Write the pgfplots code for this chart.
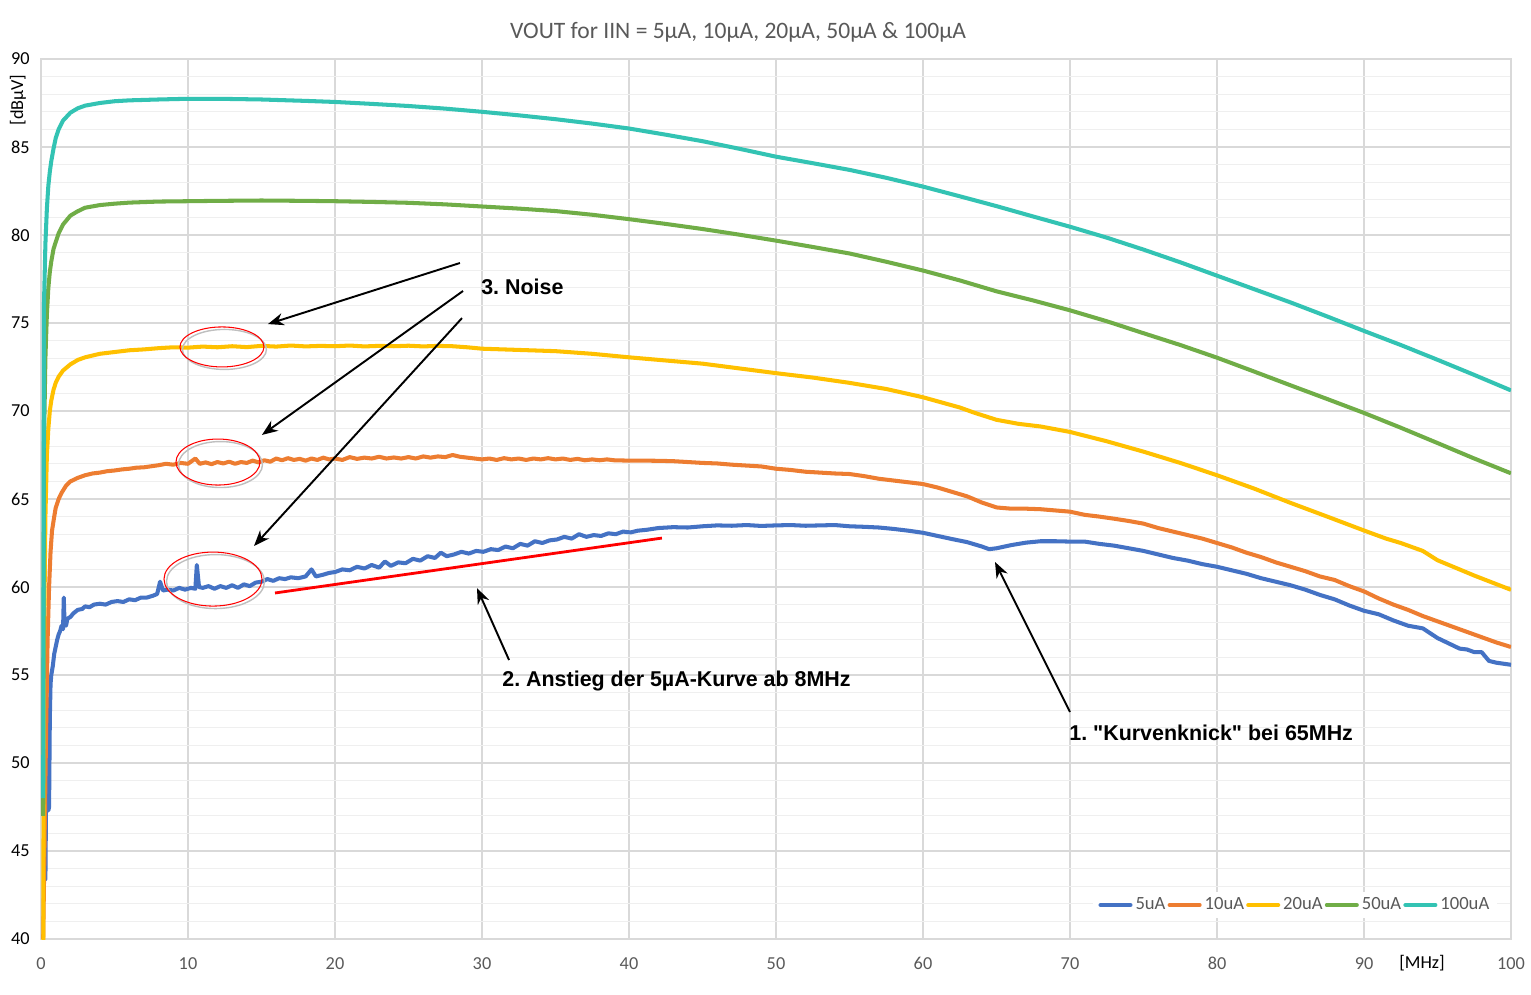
\documentclass[border=0pt]{standalone}
\usepackage{fontspec}
\setmainfont{Carlito}
\newfontfamily\annfont{Liberation Sans}
\usepackage{pgfplots}
\pgfplotsset{compat=1.18}
\usetikzlibrary{arrows.meta}
\definecolor{cBlue}{HTML}{4472C4}
\definecolor{cOrange}{HTML}{ED7D31}
\definecolor{cYellow}{HTML}{FFC000}
\definecolor{cGreen}{HTML}{70AD47}
\definecolor{cTeal}{HTML}{33C3B3}
\definecolor{txtgray}{HTML}{595959}
\definecolor{gridmaj}{HTML}{D9D9D9}
\definecolor{gridmin}{HTML}{EFEFEF}
\frenchspacing
\begin{document}
\begin{tikzpicture}
\begin{axis}[
  at={(0,0)}, anchor=south west,
  scale only axis, width=29.4cm, height=17.6cm,
  xmin=0, xmax=100, ymin=40, ymax=90,
  xtick={0,10,...,100}, ytick={40,45,...,90},
  minor y tick num=4,
  major tick length=0pt, minor tick length=0pt,
  xmajorgrids, ymajorgrids, yminorgrids,
  major grid style={draw=gridmaj, line width=0.7pt},
  minor grid style={draw=gridmin, line width=0.5pt},
  axis line style={draw=gridmaj, line width=0.6pt},
  /pgf/number format/assume math mode=true,
  tick label style={font=\fontsize{10.4}{12}\selectfont},
  xticklabel style={text=txtgray, inner sep=0pt, yshift=-0.36cm},
  yticklabel style={text=black, inner sep=0pt, xshift=-0.22cm},
  legend columns=5,
  legend style={at={(0.9905,0.0386)}, anchor=east, draw=none, fill=white,
    font=\fontsize{10.6}{12}\selectfont, text=txtgray,
    inner xsep=3pt, inner ysep=2pt,
    nodes={inner sep=1.2pt},
    /tikz/every odd column/.append style={column sep=0.5pt}},
  legend image code/.code={\draw[#1, line width=2.3pt, line cap=round] (0cm,0cm) -- (0.6cm,0cm);},
  every axis plot/.append style={line width=2.3pt, line join=round},
]
\addplot[cBlue] coordinates {
(0.2,51) (0.3,43.4) (0.4,53.5) (0.5,47.3) (0.55,47.5) (0.6,52.5) (0.65,54.5) (0.7,55.0) (0.8,55.5) (0.9,56.2) (1.0,56.6) (1.1,57.0) (1.2,57.3) (1.3,57.5) (1.4,57.8) (1.5,57.6) (1.55,59.4) (1.6,58.0) (1.7,57.8) (1.8,58.2) (2.0,58.3) (2.2,58.5) (2.5,58.7) (2.8,58.75) (3.0,58.9) (3.3,58.85) (3.6,59.0) (4.0,59.05) (4.4,59.0) (4.8,59.15) (5.2,59.2) (5.6,59.15) (6.0,59.3) (6.4,59.25) (6.8,59.4) (7.2,59.4) (7.6,59.5) (7.9,59.6) (8.1,60.3) (8.3,59.8) (8.6,59.85) (9.0,59.8) (9.4,59.95) (9.8,59.85) (10.2,59.95) (10.5,59.9) (10.6,61.25) (10.75,60.0) (11.0,59.95) (11.4,60.05) (11.8,59.9) (12.2,60.05) (12.6,59.95) (13.0,60.1) (13.4,59.95) (13.8,60.15) (14.2,60.05) (14.6,60.25) (15.0,60.3) (15.4,60.45) (15.8,60.35) (16.2,60.5) (16.6,60.45) (17.0,60.55) (17.5,60.5) (18.0,60.6) (18.4,61.0) (18.7,60.6) (19.2,60.7) (19.6,60.8) (20,60.85) (20.5,61.0) (21,60.95) (21.5,61.15) (22,61.05) (22.5,61.25) (23,61.1) (23.4,61.45) (23.8,61.2) (24.3,61.4) (24.8,61.35) (25.3,61.6) (25.8,61.5) (26.3,61.75) (26.8,61.65) (27.2,61.95) (27.6,61.75) (28.1,61.85) (28.6,62.0) (29.1,61.9) (29.6,62.05) (30.1,62.0) (30.6,62.15) (31.1,62.1) (31.6,62.3) (32.1,62.2) (32.6,62.45) (33.1,62.35) (33.6,62.6) (34.1,62.5) (34.6,62.65) (35.1,62.7) (35.6,62.85) (36.1,62.75) (36.6,63.0) (37.1,62.85) (37.6,62.95) (38.1,62.9) (38.6,63.05) (39.1,63.0) (39.6,63.15) (40.1,63.1) (40.6,63.2) (41.2,63.25) (42,63.35) (43,63.4) (44,63.38) (45,63.45) (46,63.5) (47,63.48) (48,63.52) (49,63.47) (50,63.5) (51,63.52) (52,63.48) (53,63.5) (54,63.52) (55,63.45) (56,63.42) (57,63.38) (58,63.3) (59,63.2) (60,63.08) (61,62.9) (62,62.72) (63,62.55) (64,62.3) (64.5,62.15) (65,62.2) (66,62.38) (67,62.52) (68,62.6) (69,62.6) (70,62.58) (71,62.58) (72,62.45) (73,62.35) (74,62.2) (75,62.05) (76,61.85) (77,61.65) (78,61.5) (79,61.3) (80,61.15) (81,60.95) (82,60.75) (83,60.5) (84,60.3) (85,60.1) (86,59.85) (87,59.55) (88,59.3) (89,58.95) (90,58.65) (91,58.45) (92,58.1) (93,57.8) (94,57.65) (95,57.1) (96,56.7) (96.5,56.5) (97,56.45) (97.5,56.3) (98,56.3) (98.5,55.8) (99,55.7) (100,55.58)
};
\addlegendentry{5uA}
\addplot[cOrange] coordinates {
(0.15,40) (0.25,46) (0.35,52) (0.45,57) (0.55,60) (0.65,62) (0.75,63.2) (0.9,64.0) (1.0,64.5) (1.2,65.0) (1.4,65.35) (1.7,65.75) (2,66.0) (2.5,66.2) (3,66.35) (3.5,66.45) (4,66.5) (4.5,66.58) (5,66.62) (5.5,66.68) (6,66.72) (6.5,66.78) (7,66.8) (7.5,66.86) (8,66.92) (8.5,67.0) (9,66.95) (9.5,67.05) (10,67.0) (10.5,67.3) (10.8,67.0) (11.2,67.08) (11.6,66.98) (12,67.1) (12.4,67.02) (12.8,67.12) (13.2,67.0) (13.6,67.1) (14,67.05) (14.4,67.18) (14.8,67.08) (15.2,67.2) (15.6,67.12) (16,67.3) (16.4,67.2) (16.8,67.32) (17.2,67.22) (17.6,67.28) (18,67.18) (18.4,67.3) (18.8,67.22) (19.2,67.35) (19.6,67.25) (20,67.3) (20.5,67.22) (21,67.38) (21.5,67.28) (22,67.35) (22.5,67.3) (23,67.4) (23.5,67.3) (24,67.36) (24.5,67.3) (25,67.38) (25.5,67.3) (26,67.42) (26.5,67.35) (27,67.42) (27.5,67.38) (28,67.5) (28.5,67.4) (29,67.35) (29.5,67.3) (30,67.25) (30.5,67.3) (31,67.22) (31.5,67.32) (32,67.25) (32.5,67.3) (33,67.22) (33.5,67.3) (34,67.25) (34.5,67.32) (35,67.25) (35.5,67.3) (36,67.22) (36.5,67.28) (37,67.2) (37.5,67.25) (38,67.2) (38.5,67.25) (39,67.2) (40,67.18) (41,67.18) (42,67.17) (43,67.15) (44,67.1) (45,67.05) (46,67.02) (47,66.95) (48,66.9) (49,66.85) (50,66.72) (51,66.65) (52,66.55) (53,66.5) (54,66.45) (55,66.42) (56,66.3) (57,66.15) (58,66.05) (59,65.95) (60,65.85) (61,65.65) (62,65.4) (63,65.15) (64,64.8) (65,64.52) (66,64.45) (67,64.45) (68,64.42) (69,64.35) (70,64.28) (71,64.1) (72,64.0) (73,63.88) (74,63.75) (75,63.6) (76,63.35) (77,63.15) (78,62.95) (79,62.75) (80,62.5) (81,62.25) (82,61.95) (83,61.7) (84,61.4) (85,61.15) (86,60.9) (87,60.6) (88,60.4) (89,60.05) (90,59.75) (91,59.35) (92,59.0) (93,58.7) (94,58.35) (95,58.05) (96,57.75) (97,57.45) (98,57.15) (99,56.85) (100,56.59)
};
\addlegendentry{10uA}
\addplot[cYellow] coordinates {
(0.15,38) (0.2,56) (0.3,64) (0.4,67.5) (0.5,69.0) (0.6,70.0) (0.7,70.6) (0.85,71.2) (1.0,71.6) (1.2,71.95) (1.5,72.3) (2,72.65) (2.5,72.9) (3,73.05) (4,73.25) (5,73.35) (6,73.45) (7,73.5) (8,73.57) (9,73.62) (10,73.6) (11,73.66) (12,73.62) (13,73.68) (14,73.63) (15,73.7) (16,73.66) (17,73.72) (18,73.67) (19,73.7) (20,73.68) (21,73.72) (22,73.67) (23,73.7) (24,73.68) (25,73.71) (26,73.67) (27,73.7) (28,73.68) (29,73.62) (30,73.54) (32.5,73.47) (35,73.4) (37.5,73.25) (40,73.05) (42.5,72.87) (45,72.69) (47.5,72.42) (50,72.15) (52.5,71.9) (55,71.6) (57.5,71.25) (60,70.78) (62.5,70.2) (63.5,69.9) (65,69.5) (66.5,69.27) (68,69.12) (70,68.81) (72.5,68.28) (75,67.69) (77.5,67.05) (80,66.35) (82.5,65.6) (85,64.78) (87.5,64.0) (90,63.21) (91.5,62.75) (92.5,62.5) (94,62.05) (95,61.52) (97.5,60.65) (100,59.84)
};
\addlegendentry{20uA}
\addplot[cGreen] coordinates {
(0.15,47) (0.2,68) (0.3,73) (0.4,75.5) (0.5,77.0) (0.6,77.9) (0.7,78.5) (0.85,79.2) (1.0,79.6) (1.2,80.1) (1.5,80.6) (2,81.1) (2.5,81.35) (3,81.55) (4,81.7) (5,81.78) (6,81.84) (8,81.9) (10,81.92) (12,81.94) (15,81.96) (18,81.94) (20,81.92) (22.5,81.88) (25,81.83) (27.5,81.74) (30,81.62) (32.5,81.5) (35,81.36) (37.5,81.15) (40,80.9) (42.5,80.63) (45,80.34) (47.5,80.02) (50,79.68) (52.5,79.32) (55,78.95) (57.5,78.48) (60,77.98) (62.5,77.42) (65,76.8) (67.5,76.28) (70,75.72) (72.5,75.1) (75,74.42) (77.5,73.75) (80,73.03) (82.5,72.25) (85,71.46) (87.5,70.68) (90,69.89) (92.5,69.05) (95,68.18) (97.5,67.3) (100,66.46)
};
\addlegendentry{50uA}
\addplot[cTeal] coordinates {
(0.15,48) (0.2,76) (0.3,79.5) (0.4,81.5) (0.5,82.8) (0.6,83.6) (0.7,84.2) (0.85,84.9) (1.0,85.5) (1.2,86.0) (1.5,86.5) (2,86.95) (2.5,87.2) (3,87.35) (4,87.5) (5,87.6) (6,87.65) (8,87.7) (10,87.74) (12,87.74) (15,87.7) (18,87.62) (20,87.56) (22.5,87.45) (25,87.33) (27.5,87.18) (30,87.0) (32.5,86.8) (35,86.58) (37.5,86.33) (40,86.05) (42.5,85.7) (45,85.33) (47.5,84.9) (50,84.45) (52.5,84.08) (55,83.7) (57.5,83.25) (60,82.75) (62.5,82.2) (65,81.64) (67.5,81.05) (70,80.47) (72.5,79.85) (75,79.17) (77.5,78.45) (80,77.69) (82.5,76.93) (85,76.17) (87.5,75.37) (90,74.55) (92.5,73.75) (95,72.91) (97.5,72.05) (100,71.17)
};
\addlegendentry{100uA}
% annotations
\draw[black!25, line width=0.8pt, shift={(0.05cm,-0.05cm)}] (axis cs:12.31,73.64) ellipse [x radius=0.84cm, y radius=0.4cm];
\draw[black!25, line width=0.8pt, shift={(0.05cm,-0.05cm)}] (axis cs:12.04,67.10) ellipse [x radius=0.84cm, y radius=0.46cm];
\draw[black!25, line width=0.8pt, shift={(0.05cm,-0.05cm)}] (axis cs:11.70,60.45) ellipse [x radius=0.98cm, y radius=0.54cm];
\draw[red, line width=0.6pt] (axis cs:12.31,73.64) ellipse [x radius=0.84cm, y radius=0.4cm];
\draw[red, line width=0.6pt] (axis cs:12.04,67.10) ellipse [x radius=0.84cm, y radius=0.46cm];
\draw[red, line width=0.6pt] (axis cs:11.70,60.45) ellipse [x radius=0.98cm, y radius=0.54cm];
\draw[red, line width=1.6pt] (axis cs:15.92,59.66) -- (axis cs:42.24,62.78);
\draw[black, line width=1.1pt, -{Stealth[length=9pt, width=7pt]}] (axis cs:28.5,78.41) -- (axis cs:15.44,74.94);
\draw[black, line width=1.1pt, -{Stealth[length=9pt, width=7pt]}] (axis cs:28.71,76.82) -- (axis cs:15.03,68.64);
\draw[black, line width=1.1pt, -{Stealth[length=9pt, width=7pt]}] (axis cs:28.64,75.28) -- (axis cs:14.49,62.33);
\draw[black, line width=1.1pt, -{Stealth[length=9pt, width=7pt]}] (axis cs:31.84,55.85) -- (axis cs:29.66,59.94);
\draw[black, line width=1.1pt, -{Stealth[length=9pt, width=7pt]}] (axis cs:70.0,52.9) -- (axis cs:64.9,61.42);
\node[anchor=west, inner sep=0pt, font=\annfont\bfseries\fontsize{12.2}{14}\selectfont] at (axis cs:29.93,77.05) {3. Noise};
\node[anchor=west, inner sep=0pt, font=\annfont\bfseries\fontsize{12.2}{14}\selectfont] at (axis cs:31.36,54.66) {2. Anstieg der 5µA-Kurve ab 8MHz};
\node[anchor=west, inner sep=0pt, font=\annfont\bfseries\fontsize{12.2}{14}\selectfont] at (axis cs:69.93,51.70) {1. "Kurvenknick" bei 65MHz};
\end{axis}
\node[text=txtgray, font=\fontsize{13.4}{15}\selectfont] at (13.94,18.14) {VOUT for IIN = 5µA, 10µA, 20µA, 50µA \& 100µA};
\node[rotate=90, font=\fontsize{10.4}{12}\selectfont] at (-0.46,16.78) {[dBµV]};
\node[font=\fontsize{10.4}{12}\selectfont] at (27.62,-0.48) {[MHz]};
\pgfresetboundingbox
\path[use as bounding box] (-0.82,-1.1) rectangle (29.8,18.78);
\end{tikzpicture}
\end{document}
